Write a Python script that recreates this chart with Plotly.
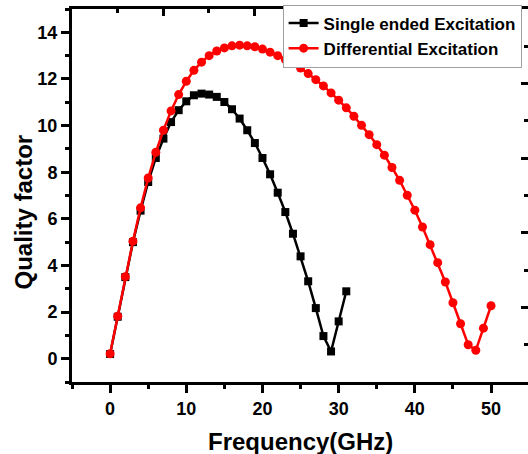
import plotly.graph_objects as go

freq_single = list(range(0, 32))
q_single = [0.2, 1.8, 3.5, 5.0, 6.35, 7.58, 8.61, 9.44, 10.15, 10.66,
            11.04, 11.3, 11.37, 11.33, 11.23, 11.01, 10.7, 10.3, 9.8, 9.25,
            8.61, 7.91, 7.12, 6.29, 5.36, 4.39, 3.32, 2.17, 0.97, 0.31,
            1.6, 2.89]

freq_diff = list(range(0, 51))
q_diff = [0.21, 1.82, 3.52, 5.04, 6.47, 7.75, 8.85, 9.8, 10.63, 11.33,
          11.9, 12.37, 12.72, 13.0, 13.2, 13.33, 13.42, 13.45, 13.42, 13.38,
          13.28, 13.15, 13.0, 12.83, 12.66, 12.47, 12.23, 11.97, 11.7, 11.4,
          11.09, 10.76, 10.4, 10.01, 9.61, 9.18, 8.73, 8.2, 7.65, 7.01,
          6.37, 5.65, 4.89, 4.12, 3.29, 2.4, 1.5, 0.6, 0.36, 1.31, 2.27]

x_ticks = [0, 10, 20, 30, 40, 50]
y_ticks = [0, 2, 4, 6, 8, 10, 12, 14]
x_title = "Frequency(GHz)"
y_title = "Quality factor"

FONT = "Liberation Sans, Arial, sans-serif"

fig = go.Figure()
fig.add_trace(go.Scatter(
    x=freq_single, y=q_single, mode="lines+markers",
    name="<b>Single ended Excitation</b>",
    line=dict(color="black", width=2.5),
    marker=dict(symbol="square", size=8, color="black"),
))
fig.add_trace(go.Scatter(
    x=freq_diff, y=q_diff, mode="lines+markers",
    name="<b>Differential Excitation</b>",
    line=dict(color="red", width=2.5),
    marker=dict(symbol="circle", size=9, color="red"),
))
# empty trace to activate the decorative top/right axes
fig.add_trace(go.Scatter(x=[], y=[], xaxis="x2", yaxis="y2",
                         showlegend=False, hoverinfo="skip"))

fig.update_layout(
    width=528, height=454,
    margin=dict(l=72, r=0, t=9, b=72, autoexpand=False),
    paper_bgcolor="white", plot_bgcolor="white",
    font=dict(family=FONT, color="black"),
    showlegend=True,
    legend=dict(
        x=0.986, y=1.012, xanchor="right", yanchor="top",
        bgcolor="white", bordercolor="#a0a0a0", borderwidth=1,
        font=dict(family=FONT, size=17, color="black"),
        tracegroupgap=0, itemwidth=30,
    ),
    annotations=[
        dict(text=f"<b>{x_title}</b>", xref="paper", yref="paper",
             x=0.5, y=0, xanchor="center", yanchor="middle", yshift=-59,
             showarrow=False, font=dict(family=FONT, size=24, color="black")),
        dict(text=f"<b>{y_title}</b>", xref="paper", yref="paper",
             x=0, y=0.5, xanchor="center", yanchor="middle", xshift=-49, yshift=-17,
             textangle=-90, showarrow=False,
             font=dict(family=FONT, size=24, color="black")),
    ],
    xaxis=dict(
        range=[-5, 54.85], showgrid=False, zeroline=False, automargin=False,
        showline=True, linecolor="black", linewidth=3,
        tickmode="array", tickvals=x_ticks, ticktext=[f"<b>{v}</b>" for v in x_ticks],
        ticks="outside", ticklen=8, tickwidth=2.5, tickcolor="black",
        tickfont=dict(family=FONT, size=18, color="black"),
        minor=dict(tickmode="linear", tick0=-5, dtick=10, ticks="outside",
                   ticklen=4, tickwidth=2.5, tickcolor="black", showgrid=False),
    ),
    yaxis=dict(
        range=[-1, 15], showgrid=False, zeroline=False, automargin=False,
        showline=True, linecolor="black", linewidth=3,
        tickmode="array", tickvals=y_ticks, ticktext=[f"<b>{v}</b>" for v in y_ticks],
        ticks="outside", ticklen=8, tickwidth=2.5, tickcolor="black",
        tickfont=dict(family=FONT, size=18, color="black"),
        minor=dict(tickmode="linear", tick0=-1, dtick=2, ticks="outside",
                   ticklen=4, tickwidth=2.5, tickcolor="black", showgrid=False),
    ),
    xaxis2=dict(
        overlaying="x", side="top", range=[0, 10], showgrid=False, zeroline=False,
        automargin=False,
        showline=True, linecolor="black", linewidth=3, showticklabels=False,
        tickmode="linear", tick0=0, dtick=2,
        ticks="inside", ticklen=7, tickwidth=2.5, tickcolor="black",
        minor=dict(tickmode="linear", tick0=1, dtick=2, ticks="inside",
                   ticklen=4, tickwidth=2.5, tickcolor="black", showgrid=False),
    ),
    yaxis2=dict(
        overlaying="y", side="right", range=[0, 10], showgrid=False, zeroline=False,
        automargin=False,
        showline=False, showticklabels=False,
        tickmode="linear", tick0=0, dtick=2,
        ticks="inside", ticklen=7, tickwidth=2.5, tickcolor="black",
        minor=dict(tickmode="linear", tick0=1, dtick=2, ticks="inside",
                   ticklen=4, tickwidth=2.5, tickcolor="black", showgrid=False),
    ),
)

fig.write_html(
    "out.html",
    config={"displayModeBar": False},
    post_script="document.body.style.margin='0';document.body.style.overflow='hidden';",
)
